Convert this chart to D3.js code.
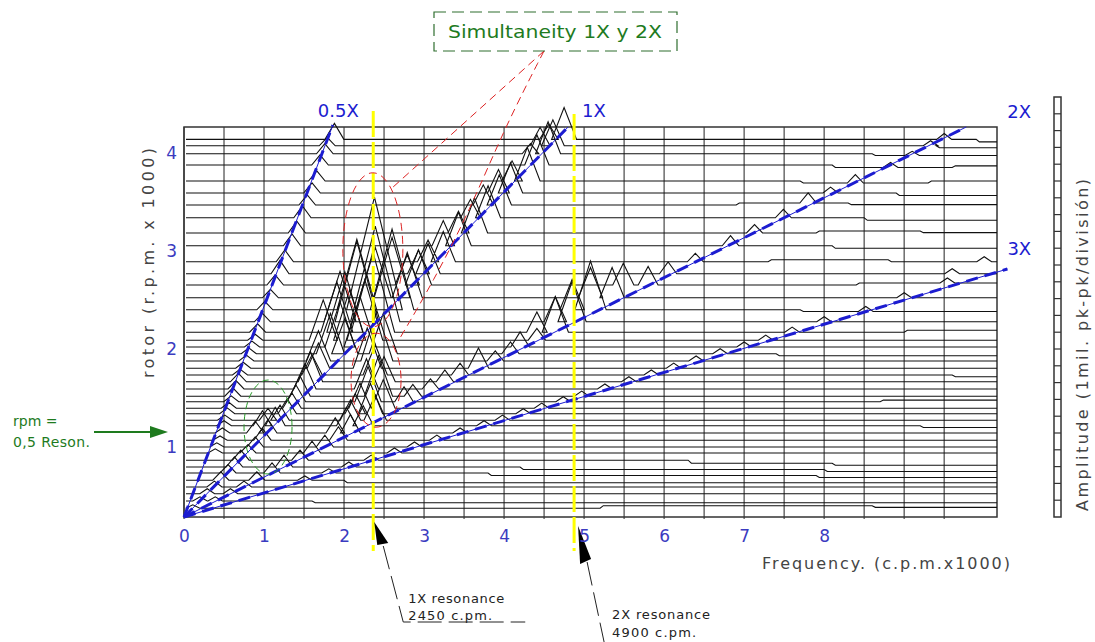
<!DOCTYPE html>
<html>
<head>
<meta charset="utf-8">
<script src="https://cdn.jsdelivr.net/npm/d3@7"></script>
<style>
  body { margin: 0; background: #fff; }
  text { font-family: "DejaVu Sans", Verdana, sans-serif; }
</style>
</head>
<body>
<script>
// rotor speed of every spectrum in the cascade (r.p.m. x 1000), top to bottom
var rpm = [4.72, 4.64, 4.54, 4.40, 4.20, 4.05, 3.90, 3.74, 3.55, 3.39,
           3.19, 3.04, 2.90, 2.74, 2.59, 2.44, 2.31, 2.21, 2.125, 2.04,
           1.95, 1.86, 1.775, 1.69, 1.60, 1.51, 1.44, 1.36, 1.29, 1.21,
           1.14, 1.05, 0.96, 0.875, 0.80, 0.71, 0.625, 0.55, 0.46, 0.375,
           0.29, 0.20, 0.11];

// peaks of every spectrum: [frequency (c.p.m. x 1000), amplitude (mil pk-pk)]
var peaks = [
  [[1.88,0.95],[4.56,0.9],[4.75,1.9],[9.5,0.35]],
  [[1.79,0.5],[4.45,1.1],[4.61,1.55],[9.33,0.3]],
  [[1.76,0.6],[4.33,0.6],[4.55,1.9],[9.1,0.25]],
  [[1.70,0.6],[4.41,1.8],[8.83,0.3]],
  [[1.66,0.6],[4.10,1.2],[4.29,2.0],[8.39,0.5]],
  [[1.60,0.6],[3.93,1.4],[4.08,1.8],[8.08,0.35]],
  [[1.54,0.6],[3.74,1.2],[3.94,1.8],[7.80,0.6]],
  [[1.48,0.7],[3.58,1.1],[3.80,1.9],[7.49,0.5]],
  [[1.41,0.7],[3.43,1.3],[3.63,2.1],[7.13,0.5]],
  [[1.35,0.7],[3.24,1.5],[3.43,2.0],[6.83,0.6]],
  [[1.26,0.7],[3.05,1.3],[3.24,1.8],[6.39,0.5],[10.0,0.3]],
  [[1.20,0.8],[2.93,1.4],[3.05,1.8],[6.05,0.7],[9.6,0.3]],
  [[1.14,0.6],[2.79,1.8],[2.93,2.1],[5.49,1.3],[5.80,1.1],[9.54,0.3]],
  [[1.08,0.5],[2.39,3.0],[2.60,3.6],[2.79,2.7],[5.08,1.8],[5.35,1.8],[9.0,0.3]],
  [[1.01,0.5],[2.16,4.2],[2.38,6.7],[2.60,4.8],[4.85,1.8],[5.08,2.9],[8.52,0.3]],
  [[0.98,0.5],[1.95,3.0],[2.16,4.8],[2.39,5.7],[4.64,1.5],[4.85,2.4],[8.0,0.3]],
  [[0.92,0.5],[1.91,3.0],[2.01,3.6],[2.36,4.8],[4.41,1.2],[4.64,2.1],[7.6,0.3]],
  [[0.89,0.35],[1.74,2.4],[2.07,3.0],[2.26,3.6],[4.41,0.7],[7.27,0.3]],
  [[0.85,0.35],[1.95,2.7],[2.20,3.0],[4.20,0.9],[7.0,0.3]],
  [[0.81,0.35],[1.83,2.4],[2.01,2.1],[2.49,2.4],[4.08,0.7],[6.7,0.3]],
  [[0.78,0.35],[1.68,1.8],[2.41,3.0],[3.89,0.6],[6.4,0.3]],
  [[0.74,0.35],[1.68,1.5],[2.29,2.4],[3.68,1.2],[6.12,0.3]],
  [[0.70,0.35],[1.60,1.2],[2.39,1.8],[3.45,0.7],[5.84,0.3]],
  [[0.68,0.5],[1.58,1.8],[2.50,1.5],[3.26,0.7],[5.56,0.3]],
  [[0.65,0.5],[1.51,1.5],[2.28,1.8],[3.08,0.6],[5.26,0.3]],
  [[0.61,0.5],[1.45,1.2],[2.43,2.4],[2.86,0.7],[4.97,0.3]],
  [[0.59,0.35],[1.40,1.0],[2.30,2.1],[2.75,0.9],[4.74,0.3]],
  [[0.56,0.35],[1.35,0.9],[2.20,1.5],[2.49,1.7],[4.47,0.3]],
  [[0.54,0.35],[1.29,0.9],[2.14,1.2],[2.33,1.8],[4.24,0.3]],
  [[0.51,0.3],[1.05,0.7],[1.20,0.9],[2.08,1.2],[2.39,1.5],[3.98,0.3]],
  [[0.50,0.3],[0.98,0.9],[1.14,1.1],[2.03,1.1],[2.24,1.2],[3.75,0.3]],
  [[0.48,0.3],[0.89,0.7],[1.05,0.8],[1.89,0.9],[2.08,1.1],[3.45,0.3]],
  [[0.45,0.25],[0.98,0.7],[1.93,0.8],[3.16,0.3]],
  [[0.41,0.25],[0.89,0.6],[1.76,0.7],[2.88,0.3]],
  [[0.39,0.25],[0.80,0.5],[1.60,0.7],[2.63,0.3]],
  [[0.71,0.6],[1.45,0.6],[2.34,0.3]],
  [[0.63,0.6],[1.25,0.7],[2.06,0.3]],
  [[0.55,0.5],[1.10,0.6],[1.81,0.25]],
  [[0.46,0.5],[0.91,0.5],[1.51,0.25]],
  [[0.38,0.35],[0.75,0.35]],
  [[0.29,0.3],[0.58,0.3]],
  [[0.20,0.25],[0.39,0.25]],
  [[0.11,0.2]]
];

// small shifts of the noise floor along each spectrum: [frequency, shift (mil)]
var floorSteps = [
  [[9.9,-0.15]], [[9.4,-0.12]], [[8.6,-0.1]], [[8.1,-0.15],[9.6,0.1]],
  [[7.7,-0.12],[9.3,0.12]], [[8.9,-0.15]], [[6.9,0.12],[8.3,-0.1]], [[8.5,-0.15]],
  [[7.9,0.12],[9.2,-0.1]], [[8.1,-0.15]], [[7.3,0.12],[8.8,-0.12]], [],
  [[8.4,0.12]], [], [[7.7,-0.1]], [], [[9.0,0.12]], [], [], [[7.4,-0.12]],
  [], [], [[9.6,-0.1]], [], [], [], [[8.7,0.1]], [], [], [],
  [[9.2,-0.1]], [], [], [], [], [[6.3,-0.18],[8.1,-0.12]], [[4.2,-0.15],[8.0,-0.12]],
  [[3.8,-0.15],[7.9,-0.12]], [[2.0,-0.15]], [], [], [[1.6,-0.1]], [[5.2,0.15],[8.6,-0.1]]
];

var freqTicks = [0, 1, 2, 3, 4, 5, 6, 7, 8];
var rpmTicks = [1, 2, 3, 4];

// order lines, end point
var orderNames = ["0.5X", "1X", "2X", "3X"];
var orderEndFreq = [1.86, 4.80, 9.775, 10.29];
var orderEndRpm = [4.90, 4.875, 4.875, 3.10];

var resonanceFreq = [2.39, 4.90];
var resonanceText = [["1X resonance", "2450 c.pm."], ["2X resonance", "4900 c.pm."]];
var ampDivisions = 25;

var W = 1095, H = 642;
var svg = d3.select("body").append("svg")
    .attr("width", W).attr("height", H)
    .style("background", "#fff");

var x = d3.scaleLinear().domain([0, 10.16]).range([184, 997]),
    y = d3.scaleLinear().domain([0, 4.875]).range([517, 127]),
    amp = d3.scaleLinear().domain([0, 1]).range([0, 16.8]);
// printed rpm numbers do not sit on the spectra scale in the original
var yLab = d3.scaleLinear().domain([1, 4]).range([447, 153]);

var blue = "#1c1cd0", tickBlue = "#3b3bc0", green = "#1e7b1e", red = "#d22",
    yellow = "#ffff00", grey = "#444";

// vertical grid
svg.append("g").selectAll("line")
  .data(d3.range(0, 10, 0.5))
  .enter().append("line")
    .attr("x1", d => x(d)).attr("x2", d => x(d))
    .attr("y1", y(4.875)).attr("y2", y(0) + 2)
    .attr("stroke", "#555").attr("stroke-width", 1.3);

svg.append("rect")
  .attr("x", x(0)).attr("y", y(4.875))
  .attr("width", x(10.16) - x(0)).attr("height", y(0) - y(4.875))
  .attr("fill", "none").attr("stroke", "#333").attr("stroke-width", 1.5);

// spectra
var line = d3.line();
function spectrum(i) {
  var base = y(rpm[i]);
  var pts = [[x(0) + 2, base]];
  var ev = peaks[i].map(p => ({f: p[0], a: p[1], step: false}))
    .concat(floorSteps[i].map(s => ({f: s[0], a: s[1], step: true})))
    .sort((a, b) => a.f - b.f);
  ev.forEach(function(e) {
    if (e.step) {
      pts.push([x(e.f), base]);
      base -= amp(e.a);
      pts.push([x(e.f + 0.04), base]);
      return;
    }
    var hw = 0.08 + 0.04 * e.a;
    pts.push([x(e.f - hw), base], [x(e.f), base - amp(e.a)], [x(e.f + hw), base]);
  });
  pts.push([x(10.16), base]);
  return line(pts);
}

svg.append("g").selectAll("path")
  .data(rpm)
  .enter().append("path")
    .attr("d", (d, i) => spectrum(i))
    .attr("fill", "none")
    .attr("stroke", "#111")
    .attr("stroke-width", 1.1);

// order lines
var og = svg.append("g");
orderNames.forEach(function(n, i) {
  og.append("line")
    .attr("x1", x(0)).attr("y1", y(0))
    .attr("x2", x(orderEndFreq[i])).attr("y2", y(orderEndRpm[i]))
    .attr("stroke", blue).attr("stroke-width", 1);
  og.append("line")
    .attr("x1", x(0)).attr("y1", y(0))
    .attr("x2", x(orderEndFreq[i])).attr("y2", y(orderEndRpm[i]))
    .attr("stroke", blue).attr("stroke-width", 3)
    .attr("stroke-dasharray", "12,7");
});
var labOff = [[-15, -8], [14, -10], [41, -9], [0, -14]];
og.selectAll("text")
  .data(orderNames)
  .enter().append("text")
    .attr("x", (d, i) => x(orderEndFreq[i]) + labOff[i][0])
    .attr("y", (d, i) => y(orderEndRpm[i]) + labOff[i][1])
    .attr("font-size", 18)
    .attr("fill", blue)
    .text(d => d);

// resonance markers
svg.append("g").selectAll("line")
  .data(resonanceFreq)
  .enter().append("line")
    .attr("x1", d => x(d) - 2).attr("x2", d => x(d) - 2)
    .attr("y1", (d, i) => i ? 114 : 111).attr("y2", 551)
    .attr("stroke", yellow).attr("stroke-width", 3)
    .attr("stroke-dasharray", "26,5");

// red and green ellipses
function ell(cf, cr, rx, ry, col, dash) {
  svg.append("ellipse")
    .attr("cx", x(cf)).attr("cy", y(cr)).attr("rx", rx).attr("ry", ry)
    .attr("fill", "none").attr("stroke", col).attr("stroke-width", 1)
    .attr("stroke-dasharray", dash);
}
ell(2.36, 3.34, 30, 77, red, "8,5");
ell(2.40, 1.71, 25, 47, red, "8,5");
ell(1.05, 1.125, 24, 47, "#2a9a2a", "7,4");

var boxTip = [544, 51];
svg.append("path")
  .attr("d", line([boxTip, [392, 188]]))
  .attr("fill", "none").attr("stroke", red).attr("stroke-width", 1).attr("stroke-dasharray", "8,5");
svg.append("path")
  .attr("d", d3.line().curve(d3.curveBasis)([boxTip, [505, 127], [470, 210], [433, 282], [400, 338]]))
  .attr("fill", "none").attr("stroke", red).attr("stroke-width", 1).attr("stroke-dasharray", "8,5");

// "Simultaneity" box
svg.append("rect")
  .attr("x", 434).attr("y", 12).attr("width", 243).attr("height", 39)
  .attr("fill", "none").attr("stroke", "#2f6e2f").attr("stroke-width", 1.2)
  .attr("stroke-dasharray", "12,6");
svg.append("text")
  .attr("x", 448).attr("y", 38)
  .attr("font-size", 18).attr("fill", green)
  .attr("textLength", 214).attr("lengthAdjust", "spacingAndGlyphs")
  .text("Simultaneity 1X y 2X");

// rpm = 0,5 resonance callout
svg.append("text").attr("x", 13).attr("y", 426).attr("font-size", 14).attr("fill", green).text("rpm =");
svg.append("text").attr("x", 13).attr("y", 447).attr("font-size", 14).attr("fill", green)
  .attr("textLength", 77).text("0,5 Reson.");
svg.append("line").attr("x1", 94).attr("x2", 152).attr("y1", 432).attr("y2", 432)
  .attr("stroke", green).attr("stroke-width", 2);
svg.append("path").attr("d", "M150,426L168,432L150,438Z").attr("fill", green);

// resonance arrows + notes
resonanceFreq.forEach(function(f, i) {
  var fx = x(f);
  var g = svg.append("g");
  if (i === 0) {
    g.append("path").attr("d", line([[fx - 1, 522], [fx + 2, 545], [fx + 13, 543]]) + "Z").attr("fill", "#000");
    g.append("path").attr("d", line([[fx + 8, 546], [fx + 28, 622], [fx + 150, 622]]))
      .attr("fill", "none").attr("stroke", "#222").attr("stroke-width", 1).attr("stroke-dasharray", "24,7");
    g.append("text").attr("x", fx + 33).attr("y", 603).attr("font-size", 13).attr("fill", "#222").attr("textLength", 96).text(resonanceText[i][0]);
    g.append("text").attr("x", fx + 33).attr("y", 620).attr("font-size", 13).attr("fill", "#222").attr("textLength", 84).text(resonanceText[i][1]);
  } else {
    g.append("path").attr("d", line([[fx + 2, 526], [fx + 4, 564], [fx + 15, 559]]) + "Z").attr("fill", "#000");
    g.append("path").attr("d", line([[fx + 11, 562], [fx + 28, 642]]))
      .attr("fill", "none").attr("stroke", "#222").attr("stroke-width", 1).attr("stroke-dasharray", "24,7");
    g.append("text").attr("x", fx + 36).attr("y", 619).attr("font-size", 13).attr("fill", "#222").attr("textLength", 98).text(resonanceText[i][0]);
    g.append("text").attr("x", fx + 36).attr("y", 637).attr("font-size", 13).attr("fill", "#222").attr("textLength", 84).text(resonanceText[i][1]);
  }
});

// axes
var xAxis = svg.append("g")
  .attr("transform", "translate(0," + y(0) + ")")
  .call(d3.axisBottom(x).tickValues(freqTicks).tickSize(0).tickPadding(13).tickFormat(d3.format("d")));
xAxis.select(".domain").remove();
xAxis.selectAll("text").attr("font-size", 17).attr("fill", tickBlue).style("font-family", "DejaVu Sans");

var yAxis = svg.append("g")
  .attr("transform", "translate(" + (x(0) - 7) + ",0)")
  .call(d3.axisLeft(yLab).tickValues(rpmTicks).tickSize(0).tickPadding(0).tickFormat(d3.format("d")));
yAxis.select(".domain").remove();
yAxis.selectAll("text").attr("font-size", 17).attr("fill", tickBlue).style("font-family", "DejaVu Sans");

svg.append("text")
  .attr("x", 762).attr("y", 569)
  .attr("font-size", 16).attr("fill", grey)
  .attr("textLength", 248).attr("lengthAdjust", "spacing")
  .text("Frequency. (c.p.m.x1000)");

svg.append("text")
  .attr("transform", "translate(154,378) rotate(-90)")
  .attr("font-size", 16).attr("fill", grey)
  .attr("textLength", 230).attr("lengthAdjust", "spacing")
  .text("rotor (r.p.m. x 1000)");

// amplitude scale bar
var ag = svg.append("g");
ag.append("rect")
  .attr("x", 1054).attr("y", y(0) - amp(ampDivisions))
  .attr("width", 7).attr("height", amp(ampDivisions))
  .attr("fill", "none").attr("stroke", "#333").attr("stroke-width", 1.5);
ag.selectAll("line")
  .data(d3.range(1, ampDivisions))
  .enter().append("line")
    .attr("x1", 1054).attr("x2", 1061)
    .attr("y1", d => y(0) - amp(d)).attr("y2", d => y(0) - amp(d))
    .attr("stroke", "#333").attr("stroke-width", 1.2);

svg.append("text")
  .attr("transform", "translate(1088,511) rotate(-90)")
  .attr("font-size", 16).attr("fill", grey)
  .attr("textLength", 332).attr("lengthAdjust", "spacing")
  .text("Amplitude (1mil. pk-pk/división)");
</script>
</body>
</html>
